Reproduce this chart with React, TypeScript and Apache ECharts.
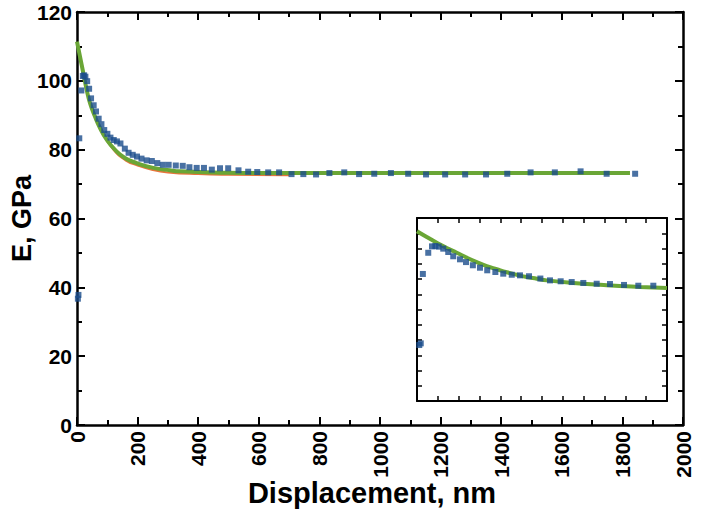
import React, { useEffect, useRef } from "react";
import * as echarts from "echarts";

// Measured points (displacement nm, modulus GPa)
const pointX = [2.9, 4.8, 7.5, 14.4, 19.2, 23.5, 27.7, 33.6, 40, 46.4, 55, 62.7, 71.5, 80.6, 89.9, 100.3, 110.4, 121.3, 131.8, 143.4, 157.9, 170.2, 183.9, 198, 212.9, 230, 247, 265, 283.3, 302.5, 326, 349, 371, 395, 419, 445, 472, 499, 533, 565, 595, 631, 667, 708, 747, 789, 833, 882, 931, 981, 1036, 1093, 1152, 1215, 1281, 1350, 1420, 1497, 1577, 1662, 1748, 1842];
const pointE = [36.7, 37.8, 83.3, 97.2, 101.4, 101.6, 101.2, 99.9, 97.7, 94.9, 92.9, 91.1, 89.0, 87.4, 85.7, 84.6, 83.5, 82.8, 82.4, 81.8, 80.3, 79.1, 78.5, 78.0, 77.4, 76.9, 76.7, 76.1, 75.6, 75.6, 75.4, 75.3, 74.9, 74.7, 74.7, 74.2, 74.6, 74.6, 74.0, 73.6, 73.5, 73.4, 73.4, 72.9, 72.9, 72.8, 73.2, 73.4, 72.9, 73.0, 73.2, 73.0, 72.8, 72.8, 72.8, 72.8, 73.0, 73.4, 73.4, 73.7, 73.0, 73.0];

// Fitted curve (green) as seen in the main panel
const fitX = [0, 10, 21, 32, 43, 59, 76, 98, 125, 158, 197, 252, 307, 340, 450, 600, 1825];
const fitE = [111.4, 107.0, 102.2, 97.4, 93.5, 89.7, 86.3, 82.9, 80.0, 77.6, 76.1, 74.7, 74.0, 73.7, 73.4, 73.2, 73.2];

// Fitted curve (green) as seen in the inset
const insetFitX = [0, 12.5, 25.3, 38.1, 50.9, 63.7, 76.5, 89.3, 102.1, 114.9, 127.7, 140.5, 153.3, 166.1, 200, 242.9, 285.4, 320];
const insetFitE = [111.3, 107.5, 103.8, 100.3, 97.2, 94.0, 91.1, 88.5, 86.4, 84.4, 82.8, 81.3, 80.2, 79.1, 77.4, 75.9, 74.8, 74.1];

// Second fit (orange, mostly hidden under green)
const fit2X = [80, 120, 160, 200, 250, 300, 400, 500, 700];
const fit2E = [85.4, 80.0, 76.9, 75.4, 74.1, 73.4, 72.9, 72.7, 72.6];

const xTicksMain = { min: 0, max: 2000, interval: 200 };
const yTicksMain = { min: 0, max: 120, interval: 20 };
const xTicksInset = { min: 0, max: 320, interval: 320 / 12 };
const yTicksInset = { min: 0, max: 120, interval: 10 };

const FONT = "'Liberation Sans', Arial, sans-serif";
const BLUE = "#1c4e8c";
const GREEN = "#6aa636";

export default function App() {
  const ref = useRef<HTMLDivElement>(null);
  useEffect(() => {
    if (!ref.current) return;
    const chart = echarts.init(ref.current, null, { renderer: "svg" });
    const pts = pointX.map((x, i) => [x, pointE[i]]);
    const fit = fitX.map((x, i) => [x, fitE[i]]);
    const insetFit = insetFitX.map((x, i) => [x, insetFitE[i]]);
    const fit2 = fit2X.map((x, i) => [x, fit2E[i]]);

    const lineMain = { show: true, onZero: false, lineStyle: { color: "#000", width: 2.5 } };
    const lineInset = { show: true, onZero: false, lineStyle: { color: "#000", width: 2 } };
    const tickMain = { show: true, inside: true, length: 8, lineStyle: { color: "#000", width: 2 } };
    const minorMain = { show: true, splitNumber: 2, length: 5, lineStyle: { color: "#000", width: 2 } };
    const tickInset = { show: true, inside: true, length: 5, lineStyle: { color: "#000", width: 1.5 } };
    const labelStyle = {
      color: "#000", fontSize: 21, fontWeight: "bold", fontFamily: FONT,
      formatter: (v: number) => String(v),
    };

    chart.setOption({
      animation: false,
      backgroundColor: "#fff",
      grid: [
        { left: 77, top: 12, width: 606, height: 413, outerBoundsMode: "none", containLabel: false },
        {
          left: 417, top: 218, width: 250, height: 183, show: true, backgroundColor: "#fff",
          borderWidth: 0, outerBoundsMode: "none", containLabel: false,
        },
      ],
      xAxis: [
        {
          type: "value", gridIndex: 0, position: "bottom", ...xTicksMain,
          axisLine: lineMain, axisTick: tickMain, minorTick: minorMain,
          splitLine: { show: false },
          axisLabel: { ...labelStyle, rotate: 90, margin: 6 },
          name: "Displacement, nm", nameLocation: "middle", nameGap: 53, nameMoveOverlap: false,
          nameTextStyle: { color: "#000", fontSize: 29, fontWeight: "bold", fontFamily: FONT, padding: [0, 16, 0, 0] },
        },
        {
          type: "value", gridIndex: 0, position: "top", ...xTicksMain,
          axisLine: lineMain, axisTick: tickMain, minorTick: minorMain,
          splitLine: { show: false }, axisLabel: { show: false },
        },
        {
          type: "value", gridIndex: 1, position: "bottom", ...xTicksInset,
          axisLine: lineInset, axisTick: tickInset, splitLine: { show: false }, axisLabel: { show: false },
        },
        {
          type: "value", gridIndex: 1, position: "top", ...xTicksInset,
          axisLine: lineInset, axisTick: tickInset, splitLine: { show: false }, axisLabel: { show: false },
        },
      ],
      yAxis: [
        {
          type: "value", gridIndex: 0, position: "left", ...yTicksMain,
          axisLine: lineMain, axisTick: tickMain, minorTick: minorMain,
          splitLine: { show: false },
          axisLabel: { ...labelStyle, margin: 5 },
          name: "E, GPa", nameLocation: "middle", nameGap: 42, nameRotate: 90, nameMoveOverlap: false,
          nameTextStyle: { color: "#000", fontSize: 27, fontWeight: "bold", fontFamily: FONT },
        },
        {
          type: "value", gridIndex: 0, position: "right", ...yTicksMain,
          axisLine: lineMain, axisTick: tickMain, minorTick: minorMain,
          splitLine: { show: false }, axisLabel: { show: false },
        },
        {
          type: "value", gridIndex: 1, position: "left", ...yTicksInset,
          axisLine: lineInset, axisTick: tickInset, splitLine: { show: false }, axisLabel: { show: false },
        },
        {
          type: "value", gridIndex: 1, position: "right", ...yTicksInset,
          axisLine: lineInset, axisTick: tickInset, splitLine: { show: false }, axisLabel: { show: false },
        },
      ],
      series: [
        {
          type: "line", xAxisIndex: 0, yAxisIndex: 0, data: fit2, smooth: true, showSymbol: false, symbol: "none",
          lineStyle: { color: "#e8743b", width: 2 }, z: 2,
        },
        {
          type: "line", xAxisIndex: 0, yAxisIndex: 0, data: fit, smooth: true, showSymbol: false, symbol: "none",
          lineStyle: { color: GREEN, width: 4 }, z: 3,
        },
        {
          type: "scatter", xAxisIndex: 0, yAxisIndex: 0, data: pts, symbol: "rect", symbolSize: 6,
          itemStyle: { color: BLUE }, z: 4,
        },
        {
          type: "line", xAxisIndex: 2, yAxisIndex: 2, data: insetFit, smooth: true, showSymbol: false, symbol: "none",
          clip: true, lineStyle: { color: GREEN, width: 4 }, z: 3,
        },
        {
          type: "scatter", xAxisIndex: 2, yAxisIndex: 2, data: pts, symbol: "rect", symbolSize: 6,
          clip: true, itemStyle: { color: BLUE }, z: 4,
        },
      ],
    });
    return () => chart.dispose();
  }, []);
  return (
    <div
      ref={ref}
      style={{ position: "fixed", left: 0, top: 0, width: 704, height: 520, background: "#fff" }}
    />
  );
}
